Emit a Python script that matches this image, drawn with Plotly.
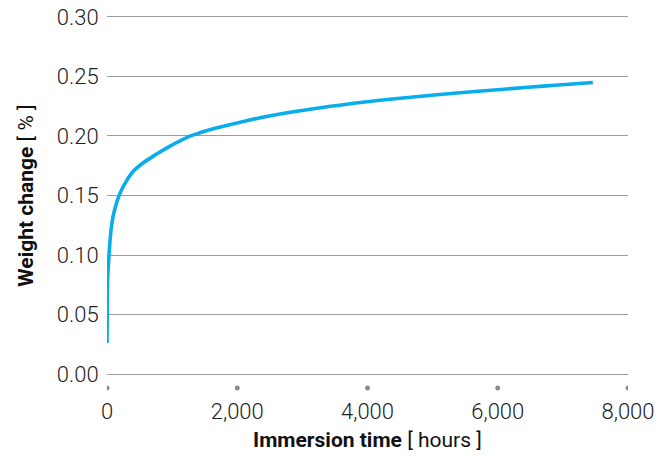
import plotly.graph_objects as go

hours = [0, 3, 10, 30, 56, 92, 143, 200, 302, 404, 558, 762, 968, 1224, 1377,
         1633, 2145, 2657, 3169, 3681, 4193, 4700, 5200, 5700, 6200, 6700,
         7200, 7460]
weight = [0.026, 0.050, 0.079, 0.099, 0.118, 0.132, 0.143, 0.152, 0.1625, 0.1703,
          0.1775, 0.1848, 0.1915, 0.1987, 0.2018, 0.2060, 0.2129, 0.2184, 0.2229,
          0.2267, 0.2300, 0.2328, 0.2353, 0.2376, 0.2398, 0.2419, 0.2439,
          0.2449]

x_ticks = [0, 2000, 4000, 6000, 8000]
x_tick_labels = ["0", "2,000", "4,000", "6,000", "8,000"]
y_ticks = [0, 0.05, 0.10, 0.15, 0.20, 0.25, 0.30]
y_tick_labels = ["0.00", "0.05", "0.10", "0.15", "0.20", "0.25", "0.30"]

FONT = "Roboto, 'Liberation Sans', sans-serif"

fig = go.Figure()
fig.add_trace(go.Scatter(
    x=hours, y=weight, mode="lines",
    line=dict(color="#0AADEB", width=3.6, shape="spline", smoothing=1.0),
    hoverinfo="skip", showlegend=False,
))

# grey dot tick markers below the axis
for xv in x_ticks:
    fig.add_shape(type="circle", xref="x", yref="paper",
                  x0=xv - 38, x1=xv + 38, y0=-0.0372, y1=-0.0234,
                  fillcolor="#8a8a8a", line=dict(width=0))

fig.update_layout(
    width=672, height=459,
    margin=dict(l=107, r=44, t=14, b=82, autoexpand=False),
    paper_bgcolor="white", plot_bgcolor="white",
    font=dict(family=FONT, color="#222222"),
    hovermode=False,
    xaxis=dict(
        range=[0, 8000], tickvals=x_ticks, ticktext=x_tick_labels,
        showgrid=False, zeroline=False, showline=False, automargin=False,
        ticks="outside", ticklen=15, tickcolor="rgba(0,0,0,0)",
        ticklabeloverflow="allow",
        tickfont=dict(size=22, family=FONT, weight=300, color="#222222"),
    ),
    yaxis=dict(
        range=[-0.0025, 0.3025], tickvals=y_ticks, ticktext=y_tick_labels,
        showgrid=True, gridcolor="#9c9c9c", gridwidth=1,
        zeroline=False, showline=False, automargin=False,
        ticks="outside", ticklen=3, tickcolor="rgba(0,0,0,0)",
        ticklabeloverflow="allow",
        tickfont=dict(size=22, family=FONT, weight=300, color="#222222"),
    ),
    annotations=[
        dict(text="<b>Immersion time</b> [ hours ]", xref="paper", yref="paper",
             x=0.5, y=-0.1736, xanchor="center", yanchor="middle", showarrow=False,
             font=dict(size=21, family=FONT, color="#111111")),
        dict(text="<b>Weight change</b> [ % ]", xref="paper", yref="paper",
             x=-0.157, y=0.5, xanchor="center", yanchor="middle", showarrow=False,
             textangle=-90, font=dict(size=21, family=FONT, color="#111111")),
    ],
)

fig.write_html("out.html", config={"displayModeBar": False},
               post_script="document.body.style.margin='0';")
